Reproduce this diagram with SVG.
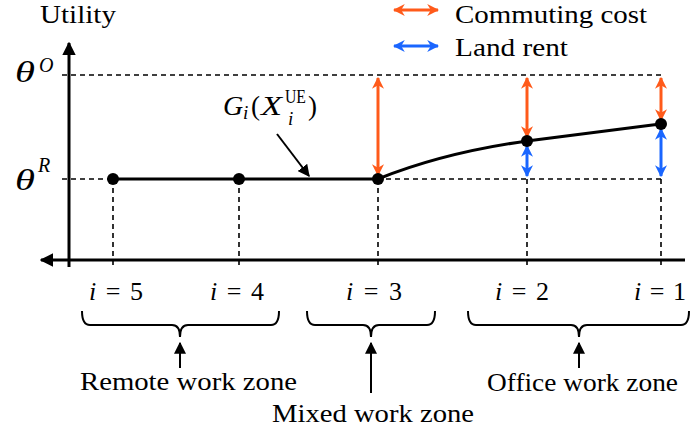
<svg xmlns="http://www.w3.org/2000/svg" width="691" height="433" viewBox="0 0 691 433">
<style>
text{font-family:'Liberation Serif','Times New Roman',serif;fill:#000}
.t{font-size:26px}
.it{font-style:italic}
.axis{stroke:#000;stroke-width:3;fill:none}
.dash{stroke:#000;stroke-width:1.6;stroke-dasharray:5,4;fill:none}
.curve{stroke:#000;stroke-width:3;fill:none}
.brace{stroke:#000;stroke-width:2;fill:none}
.orange{stroke:#FF5A1A;stroke-width:3;fill:none;marker-start:url(#ho);marker-end:url(#ho)}
.blue{stroke:#1A66FF;stroke-width:3;fill:none;marker-start:url(#hb);marker-end:url(#hb)}
.ptr{stroke:#000;stroke-width:2;fill:none;marker-end:url(#hk)}
</style>
<defs>
<marker id="ho" viewBox="0 0 10 10" refX="9" refY="5" markerWidth="4" markerHeight="4" orient="auto-start-reverse" markerUnits="strokeWidth">
<path d="M0,0 L10,5 L0,10 L3,5 Z" fill="#FF5A1A"/>
</marker>
<marker id="hb" viewBox="0 0 10 10" refX="9" refY="5" markerWidth="4" markerHeight="4" orient="auto-start-reverse" markerUnits="strokeWidth">
<path d="M0,0 L10,5 L0,10 L3,5 Z" fill="#1A66FF"/>
</marker>
<marker id="hk" viewBox="0 0 10 10" refX="9" refY="5" markerWidth="6" markerHeight="6" orient="auto" markerUnits="strokeWidth">
<path d="M0,0 L10,5 L0,10 Z" fill="#000"/>
</marker>
<marker id="hax" viewBox="0 0 10 10" refX="9" refY="5" markerWidth="4.5" markerHeight="4.5" orient="auto" markerUnits="strokeWidth">
<path d="M0,0 L10,5 L0,10 Z" fill="#000"/>
</marker>
</defs>

<g id="connectors">
<line class="dash" x1="62" y1="75" x2="661" y2="75"/>
<line class="dash" x1="62" y1="179" x2="661" y2="179"/>
<line class="dash" x1="113" y1="179" x2="113" y2="266"/>
<line class="dash" x1="239" y1="179" x2="239" y2="266"/>
<line class="dash" x1="378" y1="179" x2="378" y2="266"/>
<line class="dash" x1="527" y1="179" x2="527" y2="266"/>
<line class="dash" x1="661" y1="179" x2="661" y2="266"/>
<line class="axis" x1="69" y1="267" x2="69" y2="43" marker-end="url(#hax)"/>
<line class="axis" x1="685" y1="260" x2="41" y2="260" marker-end="url(#hax)"/>
<path class="curve" d="M113,179 L378,179 C425,160 470,149 527,141 C580,134 620,129 661,124"/>
<line class="orange" x1="378" y1="78" x2="378" y2="175"/>
<line class="orange" x1="527" y1="78" x2="527" y2="137"/>
<line class="orange" x1="661" y1="78" x2="661" y2="120"/>
<line class="blue" x1="527" y1="146" x2="527" y2="176"/>
<line class="blue" x1="661" y1="129" x2="661" y2="176"/>
<line class="orange" x1="394" y1="10" x2="438" y2="10"/>
<line class="blue" x1="394" y1="46" x2="438" y2="46"/>
<line class="ptr" x1="277" y1="134" x2="309" y2="176"/>
<path class="brace" d="M82,311 Q82,325 90,325 L172,325 Q180,325 180,337 Q180,325 188,325 L271,325 Q279,325 279,311"/>
<path class="brace" d="M307,311 Q307,325 315,325 L363,325 Q371,325 371,337 Q371,325 379,325 L427,325 Q435,325 435,311"/>
<path class="brace" d="M468,311 Q468,325 476,325 L571,325 Q579,325 579,337 Q579,325 587,325 L681,325 Q689,325 689,311"/>
<line class="ptr" x1="180" y1="368" x2="180" y2="343"/>
<line class="ptr" x1="371" y1="393" x2="371" y2="343"/>
<line class="ptr" x1="579" y1="368" x2="579" y2="343"/>
</g>

<g id="node-i5"><circle cx="113" cy="179" r="6"/></g>
<g id="node-i4"><circle cx="239" cy="179" r="6"/></g>
<g id="node-i3"><circle cx="378" cy="179" r="6"/></g>
<g id="node-i2"><circle cx="527" cy="141" r="6"/></g>
<g id="node-i1"><circle cx="661" cy="124" r="6"/></g>

<g id="labels">
<text class="t" x="40" y="23" textLength="76" lengthAdjust="spacingAndGlyphs">Utility</text>
<text class="t" x="455" y="23" textLength="192" lengthAdjust="spacingAndGlyphs">Commuting cost</text>
<text class="t" x="455" y="56" textLength="113" lengthAdjust="spacingAndGlyphs">Land rent</text>

<text class="it" x="15" y="82" font-size="29" textLength="20" lengthAdjust="spacingAndGlyphs">θ</text>
<text class="it" x="39" y="72" font-size="20">O</text>
<text class="it" x="15" y="190" font-size="29" textLength="20" lengthAdjust="spacingAndGlyphs">θ</text>
<text class="it" x="38" y="172" font-size="20">R</text>

<text class="it" x="223" y="115" font-size="28">G</text>
<text class="it" x="243" y="119" font-size="19">i</text>
<text x="251" y="115" font-size="27">(</text>
<text class="it" x="261" y="115" font-size="28" textLength="21" lengthAdjust="spacingAndGlyphs">X</text>
<text x="285" y="103" font-size="18" textLength="21" lengthAdjust="spacingAndGlyphs">UE</text>
<text class="it" x="288" y="125" font-size="19">i</text>
<text x="308" y="115" font-size="27">)</text>

<text class="t" x="116" y="300" text-anchor="middle" textLength="54"><tspan class="it">i</tspan> = 5</text>
<text class="t" x="237" y="300" text-anchor="middle" textLength="54"><tspan class="it">i</tspan> = 4</text>
<text class="t" x="374" y="300" text-anchor="middle" textLength="56"><tspan class="it">i</tspan> = 3</text>
<text class="t" x="522" y="300" text-anchor="middle" textLength="54"><tspan class="it">i</tspan> = 2</text>
<text class="t" x="660" y="300" text-anchor="middle" textLength="52"><tspan class="it">i</tspan> = 1</text>

<text class="t" x="80" y="390" textLength="217" lengthAdjust="spacingAndGlyphs">Remote work zone</text>
<text class="t" x="272" y="422" textLength="202" lengthAdjust="spacingAndGlyphs">Mixed work zone</text>
<text class="t" x="487" y="391" textLength="191" lengthAdjust="spacingAndGlyphs">Office work zone</text>
</g>
</svg>
